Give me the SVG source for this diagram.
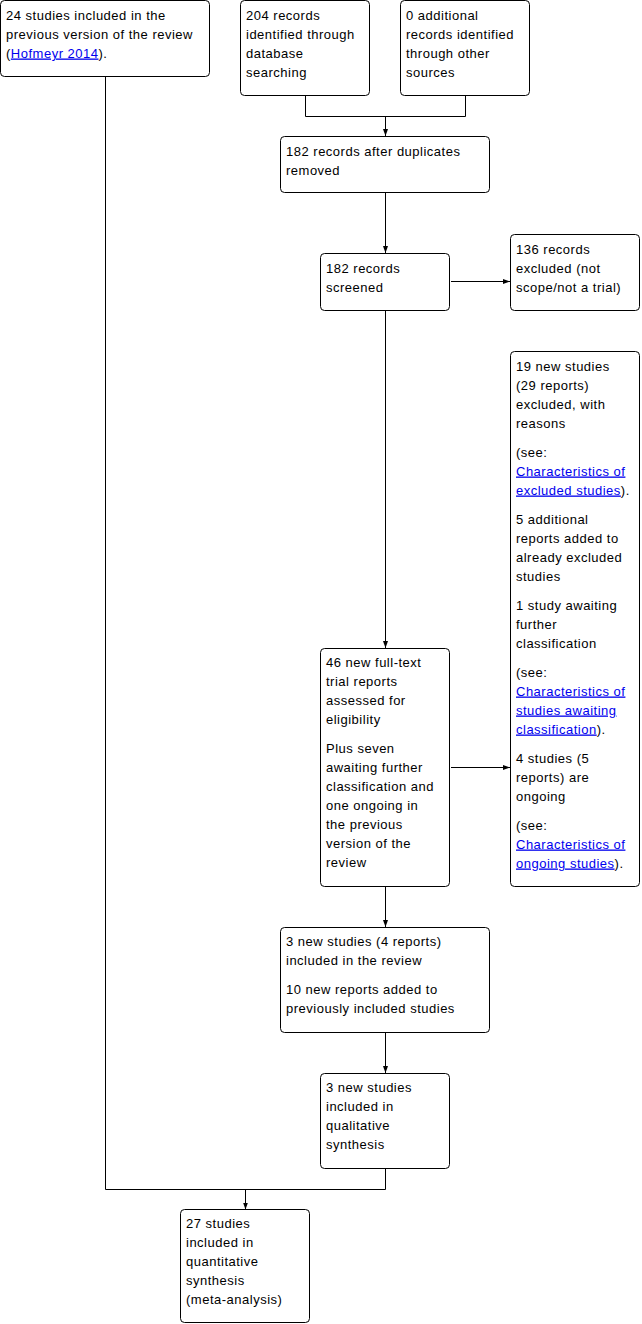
<svg xmlns="http://www.w3.org/2000/svg" width="642" height="1324" viewBox="0 0 642 1324">
<style>
.box{fill:#fff;stroke:#000;stroke-width:1}
.t{font-family:"Liberation Sans",Arial,sans-serif;font-size:13px;letter-spacing:0.5px;fill:#000}
.lk{fill:#0000ee;text-decoration:underline}
.c{fill:none;stroke:#000;stroke-width:1}
</style>
<defs>
<marker id="ah" viewBox="0 0 7 6" refX="7" refY="3" markerWidth="7" markerHeight="6" markerUnits="userSpaceOnUse" orient="auto">
<path d="M0,0.5 L7,3 L0,5.5 z" fill="#000"/>
</marker>
</defs>
<rect width="642" height="1324" fill="#fff"/>
<g id="connectors">
<path class="c" d="M305.5,95 V116.5 H465.5 V95"/>
<path class="c" d="M385.5,116.5 V136" marker-end="url(#ah)"/>
<path class="c" d="M385.5,193 V253" marker-end="url(#ah)"/>
<path class="c" d="M451,281.5 H510" marker-end="url(#ah)"/>
<path class="c" d="M385.5,310 V648" marker-end="url(#ah)"/>
<path class="c" d="M451,767.5 H510" marker-end="url(#ah)"/>
<path class="c" d="M385.5,886 V927" marker-end="url(#ah)"/>
<path class="c" d="M385.5,1032 V1073" marker-end="url(#ah)"/>
<path class="c" d="M385.5,1168 V1189.5 H105.5 V76"/>
<path class="c" d="M245.5,1189.5 V1209.5" marker-end="url(#ah)"/>
</g>
<g id="n_prev">
<rect class="box" x="0.5" y="0.5" width="209" height="76" rx="4"/>
<text class="t" x="6" y="19.5">24 studies included in the</text>
<text class="t" x="6" y="38.5">previous version of the review</text>
<text class="t" x="6" y="57.5">(<tspan class="lk">Hofmeyr 2014</tspan>).</text>
</g>
<g id="n_db">
<rect class="box" x="240.5" y="0.5" width="129" height="95" rx="4"/>
<text class="t" x="246" y="19.5">204 records</text>
<text class="t" x="246" y="38.5">identified through</text>
<text class="t" x="246" y="57.5">database</text>
<text class="t" x="246" y="76.5">searching</text>
</g>
<g id="n_other">
<rect class="box" x="400.5" y="0.5" width="129" height="95" rx="4"/>
<text class="t" x="406" y="19.5">0 additional</text>
<text class="t" x="406" y="38.5">records identified</text>
<text class="t" x="406" y="57.5">through other</text>
<text class="t" x="406" y="76.5">sources</text>
</g>
<g id="n_dup">
<rect class="box" x="280.5" y="136.5" width="209" height="56" rx="4"/>
<text class="t" x="286" y="155.5">182 records after duplicates</text>
<text class="t" x="286" y="174.5">removed</text>
</g>
<g id="n_screened">
<rect class="box" x="320.5" y="253.5" width="129" height="57" rx="4"/>
<text class="t" x="326" y="272.5">182 records</text>
<text class="t" x="326" y="291.5">screened</text>
</g>
<g id="n_excl1">
<rect class="box" x="510.5" y="234.5" width="129" height="76" rx="4"/>
<text class="t" x="516" y="253.5">136 records</text>
<text class="t" x="516" y="272.5">excluded (not</text>
<text class="t" x="516" y="291.5">scope/not a trial)</text>
</g>
<g id="n_excl2">
<rect class="box" x="510.5" y="351.5" width="129" height="535" rx="4"/>
<text class="t" x="516" y="370.5">19 new studies</text>
<text class="t" x="516" y="389.5">(29 reports)</text>
<text class="t" x="516" y="408.5">excluded, with</text>
<text class="t" x="516" y="427.5">reasons</text>
<text class="t" x="516" y="456.5">(see:</text>
<text class="t" x="516" y="475.5"><tspan class="lk">Characteristics of</tspan></text>
<text class="t" x="516" y="494.5"><tspan class="lk">excluded studies</tspan>).</text>
<text class="t" x="516" y="523.5">5 additional</text>
<text class="t" x="516" y="542.5">reports added to</text>
<text class="t" x="516" y="561.5">already excluded</text>
<text class="t" x="516" y="580.5">studies</text>
<text class="t" x="516" y="609.5">1 study awaiting</text>
<text class="t" x="516" y="628.5">further</text>
<text class="t" x="516" y="647.5">classification</text>
<text class="t" x="516" y="676.5">(see:</text>
<text class="t" x="516" y="695.5"><tspan class="lk">Characteristics of</tspan></text>
<text class="t" x="516" y="714.5"><tspan class="lk">studies awaiting</tspan></text>
<text class="t" x="516" y="733.5"><tspan class="lk">classification</tspan>).</text>
<text class="t" x="516" y="762.5">4 studies (5</text>
<text class="t" x="516" y="781.5">reports) are</text>
<text class="t" x="516" y="800.5">ongoing</text>
<text class="t" x="516" y="829.5">(see:</text>
<text class="t" x="516" y="848.5"><tspan class="lk">Characteristics of</tspan></text>
<text class="t" x="516" y="867.5"><tspan class="lk">ongoing studies</tspan>).</text>
</g>
<g id="n_fulltext">
<rect class="box" x="320.5" y="648.5" width="129" height="238" rx="4"/>
<text class="t" x="326" y="667">46 new full-text</text>
<text class="t" x="326" y="686">trial reports</text>
<text class="t" x="326" y="705">assessed for</text>
<text class="t" x="326" y="724">eligibility</text>
<text class="t" x="326" y="753">Plus seven</text>
<text class="t" x="326" y="772">awaiting further</text>
<text class="t" x="326" y="791">classification and</text>
<text class="t" x="326" y="810">one ongoing in</text>
<text class="t" x="326" y="829">the previous</text>
<text class="t" x="326" y="848">version of the</text>
<text class="t" x="326" y="867">review</text>
</g>
<g id="n_included">
<rect class="box" x="280.5" y="927.5" width="209" height="105" rx="4"/>
<text class="t" x="286" y="946">3 new studies (4 reports)</text>
<text class="t" x="286" y="965">included in the review</text>
<text class="t" x="286" y="994">10 new reports added to</text>
<text class="t" x="286" y="1013">previously included studies</text>
</g>
<g id="n_qual">
<rect class="box" x="320.5" y="1073.5" width="129" height="95" rx="4"/>
<text class="t" x="326" y="1092">3 new studies</text>
<text class="t" x="326" y="1111">included in</text>
<text class="t" x="326" y="1130">qualitative</text>
<text class="t" x="326" y="1149">synthesis</text>
</g>
<g id="n_quant">
<rect class="box" x="180.5" y="1209.5" width="129" height="113" rx="4"/>
<text class="t" x="186" y="1228">27 studies</text>
<text class="t" x="186" y="1247">included in</text>
<text class="t" x="186" y="1266">quantitative</text>
<text class="t" x="186" y="1285">synthesis</text>
<text class="t" x="186" y="1304">(meta-analysis)</text>
</g>
</svg>
